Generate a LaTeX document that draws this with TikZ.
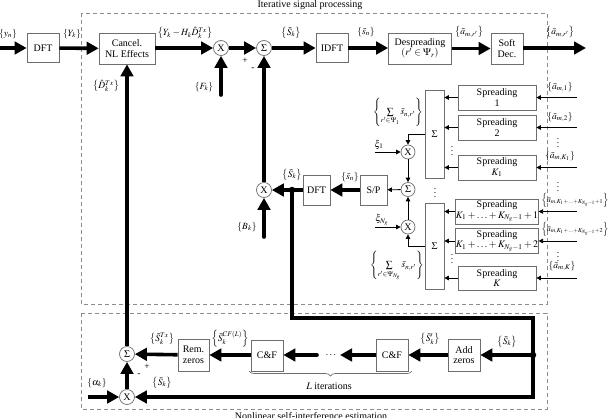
\documentclass[tikz,border=0pt]{standalone}
\usepackage{mathptmx}
\usepackage{fontspec}
\setmainfont{Liberation Serif}
\usetikzlibrary{arrows.meta,decorations.pathreplacing}
\definecolor{boxgray}{RGB}{110,110,110}
\definecolor{dashgray}{RGB}{140,140,140}
\begin{document}
\begin{tikzpicture}[x=1pt,y=-1pt,
 blk/.style={draw=boxgray, line width=0.7pt, fill=white, align=center, inner sep=0pt, font=\fontsize{10}{10.5}\selectfont},
 crc/.style={circle, draw=boxgray, line width=0.7pt, fill=white, minimum size=15pt, inner sep=0pt, font=\fontsize{10}{10}\selectfont},
 big/.style={line width=3.6pt, -{Triangle[length=12pt,width=12.5pt]}},
 sml/.style={line width=0.8pt, -{Triangle[length=4.5pt,width=4.5pt]}},
 lbl/.style={inner sep=0pt, font=\fontsize{9.5}{10}\selectfont},
 dbox/.style={draw=dashgray, dash pattern=on 4pt off 3pt, line width=0.8pt},
 jdot/.style={circle, fill=black, inner sep=0pt, minimum size=6.5pt},
]
\useasboundingbox (0,0) rectangle (611,418);

% dashed frames
\draw[dbox] (81,13) rectangle (547,304);
\draw[dbox] (81,313) rectangle (547,409);
\node[lbl, font=\fontsize{10}{11}\selectfont] (t1) at (310,5) {Iterative signal processing};
\node[lbl, font=\fontsize{10}{11}\selectfont] (t2) at (311,416) {Nonlinear self-interference estimation};

% top row
\node[blk, minimum width=32pt, minimum height=29pt] (dft1) at (43,48) {DFT};
\node[blk, minimum width=56pt, minimum height=31pt] (canc) at (127,48.5) {Cancel.\\NL Effects};
\node[crc] (mul1) at (221,48) {X};
\node[crc] (sum1) at (264,48) {$\Sigma$};
\node[blk, minimum width=32pt, minimum height=29pt] (idft) at (332,48) {IDFT};
\node[blk, minimum width=63pt, minimum height=31pt] (desp) at (420,48.5) {Despreading\\$(r'\in\Psi_r)$};
\node[blk, minimum width=32pt, minimum height=31pt] (soft) at (507,48.5) {Soft\\Dec.};

\coordinate (yin) at (0,48);
\coordinate (aout) at (586,48);
\coordinate (fk) at (221,95);
\coordinate (bk) at (264,237);

\draw[big] (yin) -- (dft1);
\draw[big] (dft1) -- (canc);
\draw[big] (canc.east |- mul1) -- (mul1);
\draw[big] (mul1) -- (sum1);
\draw[big] (sum1) -- (idft);
\draw[big] (idft) -- (desp.west |- idft);
\draw[big] (desp.east |- soft) -- (soft);
\draw[big] (soft.east |- aout) -- (aout);
\draw[big, line cap=round] (fk) -- (mul1);

\node[lbl] (lyn) at (8,34) {$\left\{y_n\right\}$};
\node[lbl] (lYk) at (72,34) {$\left\{Y_k\right\}$};
\node[lbl] (lYH) at (185,33) {$\left\{Y_k-H_k\hat{D}_k^{Tx}\right\}$};
\node[lbl] (lD) at (106,86) {$\left\{\hat{D}_k^{Tx}\right\}$};
\node[lbl] (lF) at (204,87) {$\left\{F_k\right\}$};
\node[lbl] (lp1) at (245,61) {+};
\node[lbl] (lm1) at (253,69) {-};
\node[lbl] (lSt) at (291,33) {$\left\{\tilde{S}_k\right\}$};
\node[lbl] (lst) at (366,32) {$\left\{\tilde{s}_n\right\}$};
\node[lbl] (lat) at (469,32) {$\left\{\tilde{a}_{m,r'}\right\}$};
\node[lbl] (lab) at (560,32) {$\left\{\bar{a}_{m,r'}\right\}$};

% spreading blocks
\node[blk, minimum width=78pt, minimum height=25pt] (spr1) at (497,97.5) {Spreading\\1};
\node[blk, minimum width=78pt, minimum height=25pt] (spr2) at (497,127.5) {Spreading\\2};
\node[blk, minimum width=78pt, minimum height=25pt] (sprk1) at (497,167.5) {Spreading\\$K_1$};
\node[blk, minimum width=78pt, minimum height=25pt] (spra) at (497,211.5) {Spreading\\$K_1+\ldots+K_{N_g-1}+1$};
\node[blk, minimum width=78pt, minimum height=25pt] (sprb) at (497,241) {Spreading\\$K_1+\ldots+K_{N_g-1}+2$};
\node[blk, minimum width=78pt, minimum height=24pt] (sprk) at (497,278) {Spreading\\$K$};
\node[blk, minimum width=19pt, minimum height=88pt] (sig1) at (434.5,134) {$\Sigma$};
\node[blk, minimum width=19pt, minimum height=86pt] (sig2) at (434.5,246) {$\Sigma$};

\foreach \b/\y in {spr1/97.5, spr2/127.5, sprk1/167.5} {
  \draw[sml] (\b.west) -- (\b.west -| sig1.east);
  \coordinate (in-\b) at (577,\y);
  \draw[sml] (in-\b) -- (\b.east);
}
\foreach \b/\y in {spra/211.5, sprb/241, sprk/278} {
  \draw[sml] (\b.west) -- (\b.west -| sig2.east);
  \coordinate (in-\b) at (577,\y);
  \draw[sml] (in-\b) -- (\b.east);
}
\node[lbl] (la1) at (560,87) {$\left\{\bar{a}_{m,1}\right\}$};
\node[lbl] (la2) at (560,117) {$\left\{\bar{a}_{m,2}\right\}$};
\node[lbl] (la3) at (560,156) {$\left\{\bar{a}_{m,K_1}\right\}$};
\node[lbl, font=\fontsize{8}{9}\selectfont] (la4) at (575,200) {$\left\{\bar{a}_{m,K_1+\ldots+K_{N_g-1}+1}\right\}$};
\node[lbl, font=\fontsize{8}{9}\selectfont] (la5) at (575,229) {$\left\{\bar{a}_{m,K_1+\ldots+K_{N_g-1}+2}\right\}$};
\node[lbl] (la6) at (562,266) {$\left\{\bar{a}_{m,K}\right\}$};
\node[lbl] (vd1) at (558,140) {$\vdots$};
\node[lbl] (vd2) at (558,184) {$\vdots$};
\node[lbl] (vd3) at (558,254) {$\vdots$};
\node[lbl] (vd4) at (452,148) {$\vdots$};
\node[lbl] (vd5) at (452,256) {$\vdots$};
\node[lbl] (vd6) at (435,190) {$\vdots$};

% combiner
\node[crc, minimum size=14pt] (xu) at (408,152) {X};
\node[crc, minimum size=14pt] (sumc) at (408,189.5) {$\Sigma$};
\node[crc, minimum size=14pt] (xl) at (408,227) {X};
\node[blk, minimum width=27pt, minimum height=30pt] (sp) at (373.5,190) {S/P};
\node[blk, minimum width=27pt, minimum height=30pt] (dft2) at (316.5,190) {DFT};
\node[crc] (mul2) at (264,190) {X};
\coordinate (xi1) at (375,152);
\coordinate (xiN) at (375,227);
\draw[sml] (sig1.west) -| (xu.north);
\draw[sml] (sig2.west) -| (xl.south);
\draw[sml] (xi1) -- (xu);
\draw[sml] (xiN) -- (xl);
\draw[sml] (xu) -- (sumc);
\draw[sml] (xl) -- (sumc);
\draw[sml] (sumc) -- (sp);
\draw[big] (sp) -- (dft2);
\draw[big] (dft2) -- (mul2);
\draw[big] (mul2) -- (sum1);
\draw[big, line cap=round] (bk) -- (mul2);
\node[lbl] (lxi1) at (379,145) {$\xi_1$};
\node[lbl] (lxiN) at (382,220) {$\xi_{N_g}$};
\node[lbl] (ls1) at (398,112) {$\left\{\sum\limits_{r'\in\Psi_1}\bar{s}_{n,r'}\right\}$};
\node[lbl] (ls2) at (397,266) {$\left\{\sum\limits_{r'\in\Psi_{N_g}}\bar{s}_{n,r'}\right\}$};
\node[lbl] (lsb) at (350,177) {$\left\{\bar{s}_n\right\}$};
\node[lbl] (lSb) at (292,175) {$\left\{\bar{S}_k\right\}$};
\node[lbl] (lB) at (247,227) {$\left\{B_k\right\}$};

% bottom section
\node[blk, minimum width=31pt, minimum height=32pt] (rem) at (193.5,355) {Rem.\\zeros};
\node[blk, minimum width=32pt, minimum height=31pt] (cf1) at (267,355.5) {C\&F};
\node[blk, minimum width=32pt, minimum height=32pt] (cf2) at (392,355) {C\&F};
\node[blk, minimum width=32pt, minimum height=32pt] (add) at (464,355) {Add\\zeros};
\node[crc] (sum2) at (127,354) {$\Sigma$};
\node[crc] (mul3) at (127,397) {X};
\node[jdot] (j1) at (292,190) {};
\node[jdot] (j2) at (533,355) {};
\coordinate (alpha) at (88,397);
\coordinate (dr) at (340,355);
\coordinate (dl) at (317,355);
\node[lbl, font=\fontsize{10}{10}\selectfont] (dots) at (331,355) {$\cdots$};

\draw[big] (j1.center) -- (292,318) -- (533,318) -- (533,397) -- (mul3);
\draw[big] (j2.center) -- (add);
\draw[big] (add) -- (cf2);
\draw[big] (cf2) -- (dr);
\draw[big, line cap=round] (dl) -- (cf1.east |- dl);
\draw[big] (cf1.west |- rem) -- (rem);
\draw[big] (rem) -- (sum2);
\draw[big] (mul3) -- (sum2);
\draw[big] (alpha) -- (mul3);
\draw[big] (sum2) -- (canc.south -| sum2);
\draw[line width=0.7pt, boxgray, decorate, decoration={brace, mirror, amplitude=5pt}] (249,371) -- (412,371);

\node[lbl] (lSTx) at (162,339) {$\left\{\bar{S}_k^{Tx}\right\}$};
\node[lbl] (lSCF) at (230,339) {$\left\{\bar{S}_k^{CF(L)}\right\}$};
\node[lbl] (lSp) at (430,339) {$\left\{\bar{S}'_k\right\}$};
\node[lbl] (lSr) at (507,342) {$\left\{\bar{S}_k\right\}$};
\node[lbl] (lal) at (97,383) {$\left\{\alpha_k\right\}$};
\node[lbl] (lSx) at (162,383) {$\left\{\bar{S}_k\right\}$};
\node[lbl] (lp2) at (147,367) {+};
\node[lbl] (lm2) at (139,375) {-};
\node[lbl, font=\fontsize{10}{11}\selectfont] (lL) at (329,386) {$L$ iterations};
\end{tikzpicture}
\end{document}
